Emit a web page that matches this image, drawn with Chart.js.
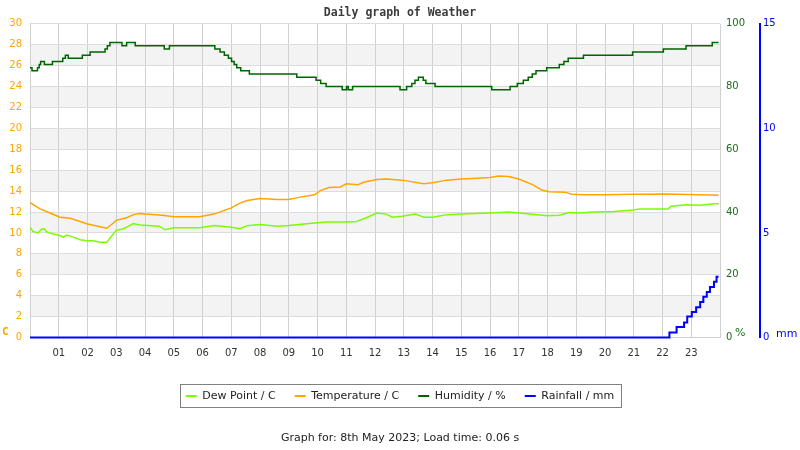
<!DOCTYPE html>
<html>
<head>
<meta charset="utf-8">
<script src="https://cdn.jsdelivr.net/npm/chart.js@4/dist/chart.umd.min.js"></script>
<style>
html,body{margin:0;padding:0;background:#fff;}
#wrap{width:800px;height:450px;position:relative;}
</style>
</head>
<body>
<div id="wrap"><canvas id="c" width="800" height="450"></canvas></div>
<script>
// ---- tick labels ----
const hourLabels = ['01','02','03','04','05','06','07','08','09','10','11','12','13','14','15','16','17','18','19','20','21','22','23'];

// ---- Temperature (C) ----
const tempHours = [0.00,0.35,0.70,1.04,1.40,1.74,2.00,2.43,2.67,2.90,3.00,3.36,3.60,3.83,4.00,4.60,5.00,5.90,6.40,7.00,7.30,7.55,8.00,8.60,9.00,9.35,9.90,10.10,10.40,10.80,11.00,11.40,11.60,12.06,12.40,12.94,13.70,14.00,14.50,15.00,15.40,16.00,16.30,16.65,17.00,17.50,17.80,18.05,18.60,18.85,19.30,20.00,21.00,22.10,23.30,23.95];
const tempValues = [12.9,12.3,11.9,11.5,11.4,11.1,10.85,10.6,10.45,10.95,11.2,11.45,11.75,11.85,11.8,11.7,11.55,11.55,11.8,12.4,12.85,13.1,13.3,13.2,13.2,13.4,13.65,14.05,14.35,14.4,14.7,14.6,14.85,15.1,15.15,15.05,14.7,14.8,15.05,15.15,15.2,15.3,15.45,15.4,15.15,14.6,14.1,13.95,13.9,13.7,13.65,13.65,13.7,13.72,13.65,13.6];

// ---- Dew Point (C) ----
const dewHours = [0.00,0.10,0.28,0.40,0.50,0.58,0.80,1.04,1.16,1.27,1.51,1.74,1.99,2.20,2.43,2.67,2.84,3.00,3.25,3.36,3.60,3.83,4.50,4.70,5.00,5.90,6.40,7.00,7.30,7.55,8.00,8.60,9.00,9.35,9.90,10.30,11.00,11.36,11.70,12.06,12.40,12.60,12.94,13.40,13.70,14.00,14.50,15.00,16.00,16.65,17.20,18.00,18.40,18.75,19.10,19.60,20.30,21.00,21.20,22.20,22.30,22.80,23.30,23.80,23.95];
const dewValues = [10.55,10.15,10.0,10.35,10.4,10.1,9.9,9.75,9.6,9.8,9.6,9.35,9.25,9.25,9.1,9.1,9.7,10.25,10.4,10.55,10.9,10.75,10.65,10.3,10.5,10.5,10.7,10.55,10.4,10.7,10.8,10.65,10.7,10.8,10.95,11.05,11.05,11.1,11.45,11.9,11.8,11.5,11.6,11.8,11.5,11.5,11.75,11.8,11.9,12.0,11.85,11.65,11.7,11.95,11.9,12.0,12.05,12.2,12.3,12.3,12.55,12.7,12.65,12.8,12.8];

// ---- Humidity (%) : change points ----
const humHours = [0.00,0.07,0.26,0.32,0.37,0.50,0.78,1.14,1.23,1.33,1.82,2.09,2.61,2.69,2.78,3.20,3.36,3.66,4.67,4.85,6.43,6.61,6.76,6.90,7.01,7.10,7.19,7.33,7.63,9.28,9.95,10.11,10.30,10.86,11.01,11.07,11.22,12.87,13.10,13.28,13.39,13.51,13.68,13.77,14.09,16.06,16.70,16.95,17.16,17.33,17.47,17.60,17.97,18.41,18.57,18.72,19.25,20.96,22.03,22.82,23.73,23.95];
const humValues = [86,85,86,87,88,87,88,89,90,89,90,91,92,93,94,93,94,93,92,93,92,91,90,89,88,87,86,85,84,83,82,81,80,79,80,79,80,79,80,81,82,83,82,81,80,79,80,81,82,83,84,85,86,87,88,89,90,91,92,93,94,94];

// ---- Rainfall (mm) : change points ----
const rainHours = [0.00,22.24,22.49,22.75,22.86,23.02,23.17,23.31,23.42,23.54,23.65,23.79,23.88,23.95];
const rainValues = [0,0.24,0.5,0.72,1.0,1.22,1.45,1.7,1.95,2.18,2.42,2.66,2.9,2.9];

const pts = (xs, ys) => xs.map((x, i) => ({x: x, y: ys[i]}));

const bandsPlugin = {
  id: 'bands',
  beforeDraw(chart) {
    const {ctx, chartArea: a, scales: {y}} = chart;
    ctx.save();
    ctx.fillStyle = '#f3f3f3';
    for (let v = 2; v < 30; v += 4) {
      const t = y.getPixelForValue(v + 2), b = y.getPixelForValue(v);
      ctx.fillRect(a.left, t, a.right - a.left, b - t);
    }
    ctx.restore();
  }
};

const extrasPlugin = {
  id: 'extras',
  afterDraw(chart) {
    const {ctx, chartArea: a, scales} = chart;
    ctx.save();
    // legend frame
    const hb = chart.legend.legendHitBoxes;
    if (hb && hb.length) {
      const first = hb[0], last = hb[hb.length - 1];
      const l = first.left - 6, r = last.left + last.width + 6;
      const t = first.top - 7, h = first.height + 12;
      ctx.strokeStyle = '#808080';
      ctx.lineWidth = 1;
      ctx.strokeRect(Math.round(l) + 0.5, Math.round(t) + 0.5, Math.round(r - l), Math.round(h));
    }
    // unit labels
    ctx.textBaseline = 'middle';
    ctx.textAlign = 'left';
    ctx.font = 'bold 11px "DejaVu Sans Mono"';
    ctx.fillStyle = '#FFA500';
    ctx.fillText('C', scales.y.left + 2, a.bottom - 5);
    ctx.font = '11px "DejaVu Sans"';
    ctx.fillStyle = '#1a6e1a';
    ctx.fillText('%', scales.y1.left + 15, a.bottom - 4);
    ctx.fillStyle = '#0000ff';
    ctx.fillText('mm', scales.y2.left + 16, a.bottom - 3);
    ctx.restore();
  }
};

Chart.defaults.font.family = '"DejaVu Sans", sans-serif';

new Chart(document.getElementById('c'), {
  type: 'line',
  data: {
    datasets: [
      {label: 'Dew Point / C', data: pts(dewHours, dewValues), borderColor: '#7CFC00', backgroundColor: '#7CFC00', borderWidth: 1.5, pointRadius: 0, yAxisID: 'y'},
      {label: 'Temperature / C', data: pts(tempHours, tempValues), borderColor: '#FFA500', backgroundColor: '#FFA500', borderWidth: 1.5, pointRadius: 0, yAxisID: 'y'},
      {label: 'Humidity / %', data: pts(humHours, humValues), borderColor: '#006400', backgroundColor: '#006400', borderWidth: 1.5, pointRadius: 0, stepped: true, yAxisID: 'y1'},
      {label: 'Rainfall / mm', data: pts(rainHours, rainValues), borderColor: '#0000FF', backgroundColor: '#0000FF', borderWidth: 2, pointRadius: 0, stepped: true, clip: false, yAxisID: 'y2'}
    ]
  },
  options: {
    responsive: false,
    animation: false,
    devicePixelRatio: 1,
    layout: {padding: 0, autoPadding: false},
    plugins: {
      title: {
        display: true,
        text: 'Daily graph of Weather',
        color: '#3c3c3c',
        font: {family: '"DejaVu Sans Mono"', size: 11.5, weight: 'bold'},
        padding: {top: 6, bottom: 4}
      },
      subtitle: {
        display: true,
        position: 'bottom',
        text: 'Graph for: 8th May 2023; Load time: 0.06 s',
        color: '#222',
        font: {size: 11, weight: 'normal'},
        padding: {top: 20, bottom: 5.3}
      },
      legend: {
        position: 'bottom',
        labels: {
          boxWidth: 11,
          boxHeight: 2,
          padding: 19,
          color: '#222',
          font: {size: 11},
          generateLabels: (chart) => chart.data.datasets.map((d, i) => ({
            text: d.label, fillStyle: d.borderColor, strokeStyle: d.borderColor,
            lineWidth: 0, hidden: false, datasetIndex: i, fontColor: '#222'
          }))
        }
      },
      tooltip: {enabled: false}
    },
    scales: {
      x: {
        type: 'linear',
        min: 0, max: 24,
        afterFit: (s) => { s.height = 34; s.paddingLeft = 0; s.paddingRight = 0; },
        ticks: {
          stepSize: 1, autoSkip: false, maxRotation: 0, padding: 10,
          color: '#333', font: {size: 10},
          callback: (v) => (v >= 1 && v <= 23) ? hourLabels[v - 1] : ''
        },
        grid: {color: '#d0d0d0', drawTicks: false},
        border: {color: '#d0d0d0'}
      },
      y: {
        position: 'left',
        min: 0, max: 30,
        afterFit: (s) => { s.width = 30; },
        ticks: {stepSize: 2, padding: 8, color: '#FFA500', font: {size: 10}},
        grid: {color: '#dcdcdc', drawTicks: false},
        border: {color: '#d0d0d0'}
      },
      y1: {
        position: 'right',
        weight: 0,
        min: 0, max: 100,
        afterFit: (s) => { s.width = 40; },
        ticks: {stepSize: 20, padding: 6, color: '#1a6e1a', font: {size: 10}},
        grid: {display: false, drawOnChartArea: false, drawTicks: false},
        border: {display: false}
      },
      y2: {
        position: 'right',
        weight: 1,
        min: 0, max: 15,
        afterFit: (s) => { s.width = 40; },
        ticks: {stepSize: 5, padding: 3, color: '#0000ff', font: {size: 10}},
        grid: {display: false, drawOnChartArea: false, drawTicks: false},
        border: {display: true, color: '#0000ff', width: 2}
      }
    }
  },
  plugins: [bandsPlugin, extrasPlugin]
});
</script>
</body>
</html>
